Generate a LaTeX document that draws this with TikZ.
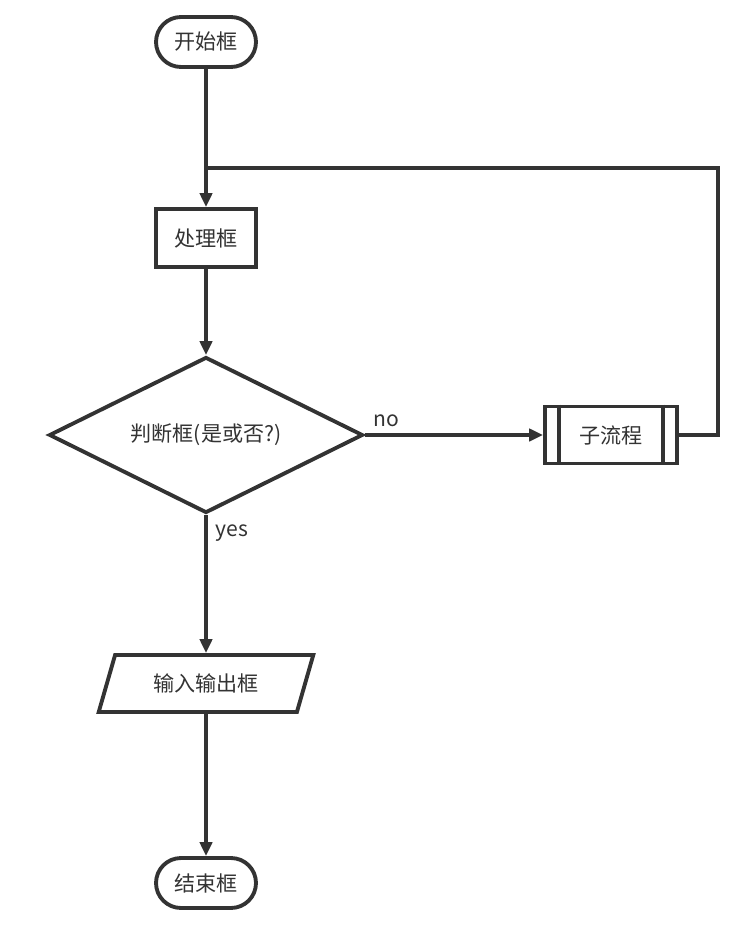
\documentclass[tikz,border=0pt]{standalone}
\usepackage{fontspec}
\setmainfont{Noto Sans CJK SC}
\usetikzlibrary{shapes.geometric,shapes.misc,arrows.meta,calc}
\definecolor{inkgray}{HTML}{333333}
\begin{document}
\begin{tikzpicture} [x = 0.02cm, y = -0.02cm, line width = 2.2pt, color = inkgray,
	font = \fontsize{12}{14}\selectfont,
	flow/.style = {-{Triangle[length = 8pt, width = 7pt]}},
	terminal/.style = {rounded rectangle, draw, minimum width = 2cm, minimum height = 1cm, inner sep = 0pt},
	process/.style = {rectangle, draw, minimum width = 2cm, minimum height = 1.16cm, inner sep = 0pt},
	decision/.style = {diamond, aspect = 2, draw, minimum width = 6.28cm, minimum height = 3.12cm, inner sep = 0pt},
	iobox/.style = {trapezium, trapezium stretches = true, trapezium left angle = 64, trapezium right angle = 116,
		draw, minimum width = 4.3cm, minimum height = 1.14cm, inner sep = 0pt},
	subproc/.style = {rectangle, draw, minimum width = 2.64cm, minimum height = 1.14cm, inner sep = 0pt}]
	\useasboundingbox (0,0) rectangle (754,925);
	% nodes
	\node [terminal] (start) at (206,42) {开始框};
	\node [process] (proc) at (206,238) {处理框};
	\node [decision] (dec) at (206,435) {判断框(是或否?)};
	\node [subproc] (sub) at (611,435) {子流程};
	\draw ($(sub.north west)+(16,0)$) -- ($(sub.south west)+(16,0)$);
	\draw ($(sub.north east)+(-16,0)$) -- ($(sub.south east)+(-16,0)$);
	\node [iobox] (io) at (206,683.5) {输入输出框};
	\node [terminal] (stop) at (206,883) {结束框};
	\coordinate (join) at (206,168);
	% connectors
	\draw [flow] (start) -- (proc);
	\draw [flow] (proc) -- (dec);
	\draw [flow] (dec.east) -- node [pos = 0.12, above = 0pt] {no} (sub.west);
	\draw [flow] (dec.south) -- node [pos = 0.13, right = 1pt] {yes} (io.north -| dec.south);
	\draw [flow] (io.south -| dec.south) -- (stop);
	\draw (sub.east) -- ++(39,0) |- (join);
\end{tikzpicture}
\end{document}
